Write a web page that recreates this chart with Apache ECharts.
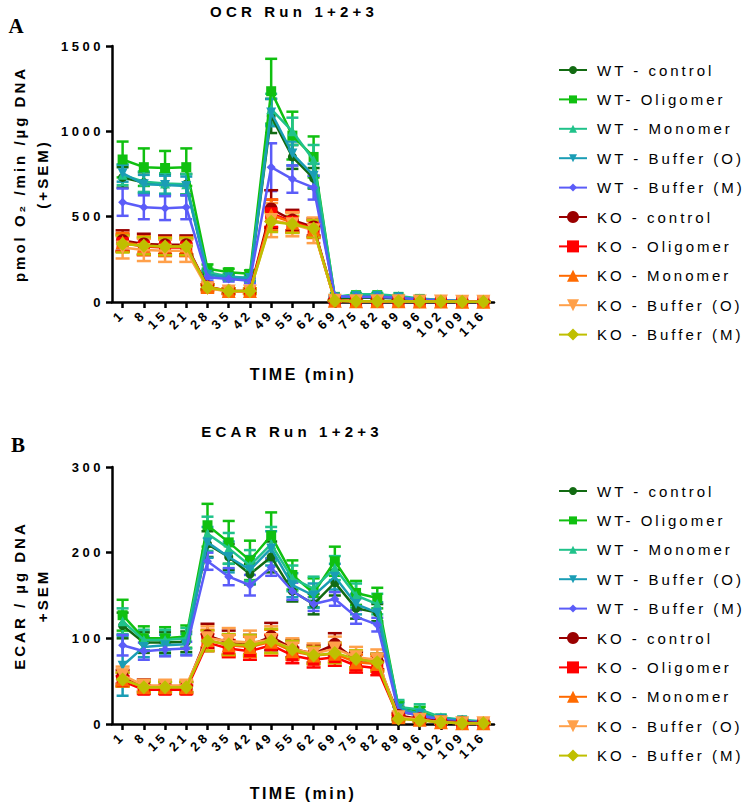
<!DOCTYPE html>
<html>
<head>
<meta charset="utf-8">
<script src="https://cdn.jsdelivr.net/npm/echarts@6/dist/echarts.min.js"></script>
<style>
html,body{margin:0;padding:0;background:#fff;}
#chart{width:749px;height:807px;}
</style>
</head>
<body>
<div id="chart"></div>
<script>
// ---------- data ----------
const categories = ['1','8','15','21','28','35','42','49','55','62','69','75','82','89','96','102','109','116'];
const seriesNames = ['WT - control','WT- Oligomer','WT - Monomer','WT - Buffer (O)','WT - Buffer (M)',
                     'KO - control','KO - Oligomer','KO - Monomer','KO - Buffer (O)','KO - Buffer (M)'];
const ocrTicks = [0, 500, 1000, 1500];
const ecarTicks = [0, 100, 200, 300];

// OCR means
const ocrWTcontrol  = [730,700,690,690,165,145,135,1090,850,725,25,25,25,20,12,8,5,3];
const ocrWTOligomer = [835,790,785,790,195,175,165,1235,975,850,30,40,40,30,18,10,6,3];
const ocrWTMonomer  = [745,705,695,690,175,150,140,1130,1000,830,30,45,45,35,20,12,6,3];
const ocrWTBufferO  = [755,690,685,680,160,145,140,1110,870,740,28,35,35,28,15,10,5,3];
const ocrWTBufferM  = [585,555,550,555,145,135,125,790,720,670,35,30,30,25,15,10,5,3];
const ocrKOcontrol  = [360,340,335,335,90,65,65,545,480,440,10,6,5,4,3,3,2,2];
const ocrKOOligomer = [345,325,320,320,85,62,62,520,470,430,8,5,5,4,3,3,2,2];
const ocrKOMonomer  = [350,330,325,325,88,65,65,510,465,425,8,5,5,4,3,3,2,2];
const ocrKOBufferO  = [320,305,300,300,80,62,62,480,455,420,8,5,5,4,3,3,2,2];
const ocrKOBufferM  = [340,330,325,325,85,65,65,470,455,430,8,5,5,4,3,3,2,2];
// OCR SEM
const ocrWTcontrolErr  = [60,60,60,60,20,15,15,100,70,60,5,5,5,5,3,3,2,2];
const ocrWTOligomerErr = [105,110,100,110,25,20,20,190,140,120,8,8,8,6,5,3,3,2];
const ocrWTMonomerErr  = [60,60,60,60,20,15,15,90,80,90,6,8,8,6,4,3,2,2];
const ocrWTBufferOErr  = [50,55,55,55,20,15,15,80,70,70,5,5,5,5,3,3,2,2];
const ocrWTBufferMErr  = [80,70,70,70,20,15,15,140,80,70,5,5,5,5,3,3,2,2];
const ocrKOcontrolErr  = [60,60,55,55,15,15,15,110,60,50,4,3,3,3,2,2,2,2];
const ocrKOOligomerErr = [50,50,50,50,15,15,15,80,60,50,3,3,3,3,2,2,2,2];
const ocrKOMonomerErr  = [55,55,55,55,15,15,15,90,60,50,3,3,3,3,2,2,2,2];
const ocrKOBufferOErr  = [65,65,65,65,20,15,15,100,70,75,3,3,3,3,2,2,2,2];
const ocrKOBufferMErr  = [50,50,50,50,15,15,15,60,50,50,3,3,3,3,2,2,2,2];

// ECAR means
const ecarWTcontrol  = [115,95,95,96,210,195,175,195,155,140,165,135,130,15,10,5,3,2];
const ecarWTOligomer = [127,100,100,102,232,212,191,220,174,153,190,153,147,20,15,6,4,2];
const ecarWTMonomer  = [120,98,98,100,222,205,185,210,170,158,182,150,140,20,17,8,5,3];
const ecarWTBufferO  = [68,90,92,93,212,195,180,205,162,150,172,140,130,18,12,6,4,2];
const ecarWTBufferM  = [92,85,87,88,190,172,162,183,155,140,146,125,116,15,10,5,3,2];
const ecarKOcontrol  = [55,45,43,43,103,95,92,102,88,82,93,75,73,10,6,3,2,1];
const ecarKOOligomer = [50,40,40,40,95,88,85,92,80,75,78,68,65,8,5,2,1,1];
const ecarKOMonomer  = [52,43,43,43,98,92,90,96,85,80,82,72,70,8,5,2,1,1];
const ecarKOBufferO  = [57,45,45,45,100,97,95,98,88,82,88,78,75,8,5,2,1,1];
const ecarKOBufferM  = [52,43,43,43,97,93,92,97,87,80,83,76,72,6,4,2,1,1];
// ECAR SEM
const ecarWTcontrolErr  = [15,12,12,12,15,15,12,18,12,12,15,12,10,5,4,2,2,1];
const ecarWTOligomerErr = [18,14,13,13,25,25,23,27,17,17,17,14,12,6,5,3,2,1];
const ecarWTMonomerErr  = [15,12,12,12,20,18,18,20,15,14,14,14,12,8,6,3,2,1];
const ecarWTBufferOErr  = [35,12,12,12,18,18,16,20,14,14,15,12,12,6,4,2,2,1];
const ecarWTBufferMErr  = [12,10,8,8,10,10,12,10,10,8,8,8,8,5,4,2,2,1];
const ecarKOcontrolErr  = [8,7,6,6,14,14,12,16,10,10,13,9,9,3,2,2,1,1];
const ecarKOOligomerErr = [6,5,5,5,10,10,10,12,9,9,10,8,8,3,2,1,1,1];
const ecarKOMonomerErr  = [8,6,6,6,12,12,12,14,10,10,10,9,9,3,2,1,1,1];
const ecarKOBufferOErr  = [10,6,6,6,14,15,14,16,12,12,14,12,12,3,2,1,1,1];
const ecarKOBufferMErr  = [8,6,6,6,12,12,12,14,10,10,12,10,10,3,2,1,1,1];

// ---------- styles ----------
const colors = ['#126b12','#10c010','#20c28a','#1a9db5','#5b5cf8','#9a0000','#ff0000','#ff6a00','#ffa04a','#bfbf00'];
const INV_TRI = 'path://M0,0L10,0L5,9Z';
const symbols = ['circle','rect','triangle',INV_TRI,'diamond','circle','rect','triangle',INV_TRI,'diamond'];
const symSizes = [9,10,10,10,9,13,12,14,14,14];
const capW = [12,12,12,12,12,14,14,14,14,14];
const FONT = '"Liberation Sans", Arial, sans-serif';

const ocrMeans = [ocrWTcontrol,ocrWTOligomer,ocrWTMonomer,ocrWTBufferO,ocrWTBufferM,ocrKOcontrol,ocrKOOligomer,ocrKOMonomer,ocrKOBufferO,ocrKOBufferM];
const ocrErrs = [ocrWTcontrolErr,ocrWTOligomerErr,ocrWTMonomerErr,ocrWTBufferOErr,ocrWTBufferMErr,ocrKOcontrolErr,ocrKOOligomerErr,ocrKOMonomerErr,ocrKOBufferOErr,ocrKOBufferMErr];
const ecarMeans = [ecarWTcontrol,ecarWTOligomer,ecarWTMonomer,ecarWTBufferO,ecarWTBufferM,ecarKOcontrol,ecarKOOligomer,ecarKOMonomer,ecarKOBufferO,ecarKOBufferM];
const ecarErrs = [ecarWTcontrolErr,ecarWTOligomerErr,ecarWTMonomerErr,ecarWTBufferOErr,ecarWTBufferMErr,ecarKOcontrolErr,ecarKOOligomerErr,ecarKOMonomerErr,ecarKOBufferOErr,ecarKOBufferMErr];

function lineSeries(k, i, means) {
  return {
    type: 'line', name: seriesNames[i], xAxisIndex: k, yAxisIndex: k,
    data: means, symbol: symbols[i], symbolSize: symSizes[i], showAllSymbol: true,
    itemStyle: { color: colors[i], opacity: 1 },
    lineStyle: { color: colors[i], width: 2.5 },
    z: 3 + i * 0.01, silent: true
  };
}
function errSeries(k, i, means, errs) {
  const col = colors[i], hw = capW[i] / 2;
  return {
    type: 'custom', name: seriesNames[i], xAxisIndex: k, yAxisIndex: k,
    data: means.map((m, j) => [j, m, errs[j]]),
    encode: { x: 0, y: 1 }, z: 2 + i * 0.01, silent: true,
    renderItem: function (params, api) {
      const x = api.value(0), m = api.value(1), e = api.value(2);
      const hi = api.coord([x, m + e]);
      const lo = api.coord([x, Math.max(0, m - e)]);
      const st = { stroke: col, lineWidth: 2.5 };
      return { type: 'group', children: [
        { type: 'line', shape: { x1: hi[0], y1: hi[1], x2: lo[0], y2: lo[1] }, style: st },
        { type: 'line', shape: { x1: hi[0] - hw, y1: hi[1], x2: hi[0] + hw, y2: hi[1] }, style: st },
        { type: 'line', shape: { x1: lo[0] - hw, y1: lo[1], x2: lo[0] + hw, y2: lo[1] }, style: st }
      ]};
    }
  };
}

const series = [];
for (let i = 0; i < 10; i++) series.push(lineSeries(0, i, ocrMeans[i]));
for (let i = 0; i < 10; i++) series.push(lineSeries(1, i, ecarMeans[i]));
for (let i = 0; i < 10; i++) series.push(errSeries(0, i, ocrMeans[i], ocrErrs[i]));
for (let i = 0; i < 10; i++) series.push(errSeries(1, i, ecarMeans[i], ecarErrs[i]));

function xAxis(k, gap) {
  return {
    type: 'category', gridIndex: k, data: categories, boundaryGap: true,
    axisLine: { show: true, lineStyle: { color: '#000', width: 2.5 } },
    axisTick: { show: true, alignWithLabel: true, interval: 0, length: 6, lineStyle: { color: '#000', width: 2.5 } },
    axisLabel: { interval: 0, rotate: 45, margin: 10, fontSize: 13, fontWeight: 'bold', color: '#000', fontFamily: FONT },
    splitLine: { show: false },
    name: 'TIME (min)', nameLocation: 'middle', nameGap: gap,
    nameTextStyle: { fontSize: 16, fontWeight: 'bold', color: '#000', fontFamily: FONT }
  };
}
function yAxis(k, ticks, name) {
  return {
    type: 'value', gridIndex: k, min: ticks[0], max: ticks[ticks.length - 1], interval: ticks[1] - ticks[0],
    axisLine: { show: true, lineStyle: { color: '#000', width: 2.5 } },
    axisTick: { show: true, length: 6, lineStyle: { color: '#000', width: 2.5 } },
    axisLabel: { margin: 8, fontSize: 13, fontWeight: 'bold', color: '#000', fontFamily: FONT,
                 formatter: function (v) { return String(v); } },
    splitLine: { show: false },
    name: name, nameLocation: 'middle', nameRotate: 90, nameGap: 58,
    nameTextStyle: { fontSize: 15, fontWeight: 'bold', color: '#000', fontFamily: FONT, lineHeight: 23 }
  };
}
function legend(names, top, itemHeight) {
  return {
    orient: 'vertical', left: 553, top: top, data: names,
    itemWidth: 28, itemHeight: itemHeight, itemGap: 9.4,
    selectedMode: false,
    textStyle: { fontSize: 15, color: '#000', fontFamily: FONT, lineHeight: 20, padding: [0, 0, 0, 5] }
  };
}

const titleTexts = ['OCR Run 1+2+3', 'ECAR Run 1+2+3'];
const option = {
  animation: false,
  backgroundColor: '#fff',
  grid: [
    { left: 109, top: 46, width: 385, height: 256 },
    { left: 109, top: 467, width: 385, height: 257 }
  ],
  xAxis: [xAxis(0, 64), xAxis(1, 61)],
  yAxis: [yAxis(0, ocrTicks, 'pmol O₂ /min /µg DNA\n(+SEM)'), yAxis(1, ecarTicks, 'ECAR / µg DNA\n+SEM')],
  legend: [
    legend(seriesNames.slice(0, 5), 55, 10),
    legend(seriesNames.slice(5), 202, 15),
    legend(seriesNames.slice(0, 5), 476, 10),
    legend(seriesNames.slice(5), 623, 15)
  ],
  graphic: [
    { type: 'text', x: 294, y: 11, style: { text: titleTexts[0], fontSize: 15, fontWeight: 'bold', fontFamily: FONT, fill: '#000', align: 'center', verticalAlign: 'middle' } },
    { type: 'text', x: 292, y: 431, style: { text: titleTexts[1], fontSize: 15, fontWeight: 'bold', fontFamily: FONT, fill: '#000', align: 'center', verticalAlign: 'middle' } },
    { type: 'text', x: 16, y: 26, style: { text: 'A', fontSize: 21, fontWeight: 'bold', fontFamily: '"Liberation Serif", "Times New Roman", serif', fill: '#000', align: 'center', verticalAlign: 'middle' } },
    { type: 'text', x: 18, y: 445, style: { text: 'B', fontSize: 21, fontWeight: 'bold', fontFamily: '"Liberation Serif", "Times New Roman", serif', fill: '#000', align: 'center', verticalAlign: 'middle' } }
  ],
  series: series
};

const chart = echarts.init(document.getElementById('chart'), null, { renderer: 'svg' });
chart.setOption(option);

function applySpacing() {
  document.querySelectorAll('#chart svg text').forEach(function (t) {
    const txt = t.textContent.trim();
    const cs = getComputedStyle(t);
    const fs = Math.round(parseFloat(cs.fontSize));
    const bold = cs.fontWeight === 'bold' || parseInt(cs.fontWeight, 10) >= 600;
    let ls = 0;
    if (titleTexts.indexOf(txt) >= 0) ls = 4.2;
    else if (txt === 'A' || txt === 'B') ls = 0;
    else if (bold && fs === 13) ls = 3.5;
    else if (bold && fs === 15) ls = 3;
    else if (bold && fs === 16) ls = 2.5;
    else if (!bold && fs === 15) ls = 3;
    t.style.letterSpacing = ls + 'px';
  });
}
applySpacing();
chart.on('finished', applySpacing);
</script>
</body>
</html>
